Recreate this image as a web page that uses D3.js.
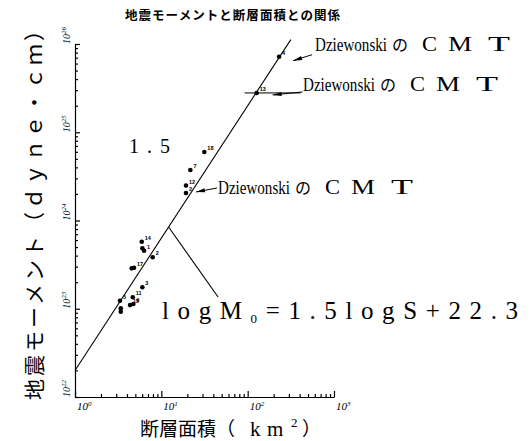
<!DOCTYPE html>
<html><head><meta charset="utf-8">
<script src="https://cdn.jsdelivr.net/npm/d3@7"></script>
<style>
html,body{margin:0;padding:0;background:#fff;}
svg{display:block;}
</style>
</head><body>
<svg id="chart" width="531" height="441"></svg>
<script>
// ---- data ----
const titleText = "地震モーメントと断層面積との関係";
const yTitle = "地震モーメント（ｄｙｎｅ・ｃｍ）";
const areas   = [5.93, 6.03, 6.31, 7.94, 4.54, 4.83, 6.03, 4.67, 3.32, 3.39, 3.39, 4.34, 4.74, 31.5, 21.7, 19.3, 19.3, 231, 127];
const moments = [5.75e23, 4.84e23, 4.55e23, 3.83e23, 2.87e23, 2.92e23, 1.75e23, 1.35e23, 1.23e23, 1.01e23, 9.27e22, 1.10e23, 1.13e23, 5.97e24, 3.73e24, 2.49e24, 2.05e24, 7.18e25, 2.79e25];
const pointLabels = ["14", "", "1", "2", "", "17", "3", "11", "5", "", "", "15", "9", "18", "7", "12", "2", "4", "13"];
const xTicks = [1, 10, 100, 1000];
const xTickExp = ["0", "1", "2", "3"];
const yTicks = [1e22, 1e23, 1e24, 1e25, 1e26];
const yTickExp = ["22", "23", "24", "25", "26"];
const fitSlope = 1.5, fitIntercept = 22.3;
const fitRange = [1, Math.pow(10, 2.5)];
const cmtPoints = [17, 18, 16]; // indices of points with Dziewonski CMT

const svg = d3.select("#chart");
const serif = "'Liberation Serif', 'DejaVu Serif', serif";
const cjk = "'Noto Sans CJK JP', sans-serif";

const x = d3.scaleLog().domain([1, 1000]).range([75, 334]);
const y = d3.scaleLog().domain([1e22, 1e26]).range([397, 44]);

function minorTicks(lo, hi) {
  const out = [];
  for (let e = lo; e < hi; e++) for (let m = 2; m <= 9; m++) out.push(m * Math.pow(10, e));
  return out;
}

// x axis
svg.append("g").attr("transform", "translate(0,397)")
  .call(d3.axisBottom(x).tickValues(xTicks).tickSizeInner(-6).tickSizeOuter(0).tickFormat(""));
svg.append("g").attr("transform", "translate(0,397)")
  .call(d3.axisBottom(x).tickValues(minorTicks(0, 3)).tickSizeInner(-3).tickSizeOuter(0).tickFormat(""))
  .select(".domain").remove();
// y axis
svg.append("g").attr("transform", "translate(75,0)")
  .call(d3.axisLeft(y).tickValues(yTicks).tickSizeInner(-5).tickSizeOuter(0).tickFormat(""));
svg.append("g").attr("transform", "translate(75,0)")
  .call(d3.axisLeft(y).tickValues(minorTicks(22, 26)).tickSizeInner(-3).tickSizeOuter(0).tickFormat(""))
  .select(".domain").remove();
svg.selectAll(".domain, .tick line").attr("stroke", "#000").attr("stroke-width", 1.2);

// x tick labels
xTicks.forEach((v, i) => {
  const t = svg.append("text").attr("x", x(v) + 2).attr("y", 410)
    .attr("font-family", serif).attr("font-style", "italic").attr("font-size", 11);
  t.append("tspan").text("10");
  t.append("tspan").attr("dy", -4).attr("font-size", 7).text(xTickExp[i]);
});
// y tick labels (rotated)
yTicks.forEach((v, i) => {
  const t = svg.append("text").attr("transform", `translate(70,${y(v)}) rotate(-90)`)
    .attr("font-family", serif).attr("font-style", "italic").attr("font-size", 10);
  t.append("tspan").text("10");
  t.append("tspan").attr("dy", -4).attr("font-size", 7).text(yTickExp[i]);
});

// regression line
const fitLine = d3.line().x(d => x(d)).y(d => y(Math.pow(10, fitSlope * Math.log10(d) + fitIntercept)));
svg.append("path").datum(fitRange).attr("d", fitLine)
  .attr("fill", "none").attr("stroke", "#000").attr("stroke-width", 1.1);

// leader from line to equation
const leadLog = 1.084;
svg.append("line")
  .attr("x1", x(Math.pow(10, leadLog))).attr("y1", y(Math.pow(10, fitSlope * leadLog + fitIntercept)))
  .attr("x2", x(45.4)).attr("y2", y(1.36e23))
  .attr("stroke", "#000").attr("stroke-width", 1.1);

// points
const pts = areas.map((a, i) => ({a, m: moments[i], l: pointLabels[i]}));
svg.append("g").selectAll("circle").data(pts).join("circle")
  .attr("cx", d => x(d.a)).attr("cy", d => y(d.m)).attr("r", 2.3).attr("fill", "#000");
svg.append("g").selectAll("text").data(pts.filter(d => d.l)).join("text")
  .attr("x", d => x(d.a) + 3).attr("y", d => y(d.m) - 2)
  .attr("font-family", "'Liberation Sans', sans-serif").attr("font-weight", "bold")
  .attr("font-size", 5.5).text(d => d.l);

// title
svg.append("text").attr("x", 125).attr("y", 20).attr("font-family", cjk).attr("font-weight", "bold")
  .attr("font-size", 12.5).attr("textLength", 215).attr("lengthAdjust", "spacing").text(titleText);

// y title
svg.append("text").attr("transform", "translate(42,400) rotate(-90)")
  .attr("font-family", cjk).attr("font-size", 21).attr("textLength", 380).attr("lengthAdjust", "spacing")
  .text(yTitle);

// x title
svg.append("text").attr("x", 140).attr("y", 436).attr("font-family", cjk).attr("font-size", 19).text("断層面積（");
svg.append("text").attr("x", 250).attr("y", 436).attr("font-family", serif).attr("font-size", 21).text("k");
svg.append("text").attr("x", 267).attr("y", 436).attr("font-family", serif).attr("font-size", 21).text("m");
svg.append("text").attr("x", 291).attr("y", 427).attr("font-family", serif).attr("font-size", 13).text("2");
svg.append("text").attr("x", 302).attr("y", 436).attr("font-family", cjk).attr("font-size", 19).text("）");

// spread a text so that it spans a target width
function spread(sel, target) {
  const n = sel.text().length;
  const w = sel.node().getComputedTextLength();
  sel.attr("letter-spacing", Math.max(0, (target - w) / (n - 1)));
}

// slope label
spread(svg.append("text").attr("x", 129).attr("y", 153).attr("font-family", serif).attr("font-size", 20).text("1.5"), 41);

// equation
const eq = svg.append("text").attr("x", 162).attr("y", 319).attr("font-family", serif).attr("font-size", 25).attr("fill", "#000");
eq.append("tspan").text("logM");
eq.append("tspan").attr("font-size", 13).attr("dy", 4).attr("fill", "#000").text("0");
eq.append("tspan").attr("dy", -4).text("=1.5logS+22.3");
spread(eq, 356);

// Dziewonski CMT annotations
function cmtLabel(x0, base) {
  svg.append("text").attr("x", x0).attr("y", base).attr("font-family", serif).attr("font-size", 19)
    .attr("textLength", 72).attr("lengthAdjust", "spacingAndGlyphs").text("Dziewonski");
  svg.append("text").attr("x", x0 + 77).attr("y", base).attr("font-family", cjk).attr("font-size", 16).text("の");
  [["C", 107, 15], ["M", 133, 24], ["T", 173, 22]].forEach(([c, dx, w]) => {
    svg.append("text").attr("x", x0 + dx).attr("y", base).attr("font-family", serif).attr("font-size", 20)
      .attr("textLength", w).attr("lengthAdjust", "spacingAndGlyphs").text(c);
  });
}
function arrow(x1, y1, x2, y2) {
  svg.append("line").attr("x1", x1).attr("y1", y1).attr("x2", x2).attr("y2", y2)
    .attr("stroke", "#000").attr("stroke-width", 1);
  const ang = Math.atan2(y2 - y1, x2 - x1), L = 9, W = 2;
  const bx = x1 + L * Math.cos(ang), by = y1 + L * Math.sin(ang);
  const px = -Math.sin(ang) * W, py = Math.cos(ang) * W;
  svg.append("path").attr("d", `M${x1},${y1}L${bx + px},${by + py}L${bx - px},${by - py}Z`).attr("fill", "#000");
}
const p4 = pts[cmtPoints[0]], p13 = pts[cmtPoints[1]], p2 = pts[cmtPoints[2]];
cmtLabel(315, 51);
arrow(x(p4.a) + 14, y(p4.m) + 4, x(p4.a) + 33, y(p4.m) - 2);
cmtLabel(303, 91);
svg.append("line").attr("x1", x(p13.a) - 12).attr("y1", y(p13.m)).attr("x2", x(p13.a) + 44).attr("y2", y(p13.m))
  .attr("stroke", "#000").attr("stroke-width", 1);
arrow(x(p13.a) + 16, y(p13.m) + 2, x(p13.a) + 46, y(p13.m) - 1);
cmtLabel(218, 194);
arrow(x(p2.a) + 10, y(p2.m) - 1, x(p2.a) + 31, y(p2.m) - 5);
</script>
</body></html>
